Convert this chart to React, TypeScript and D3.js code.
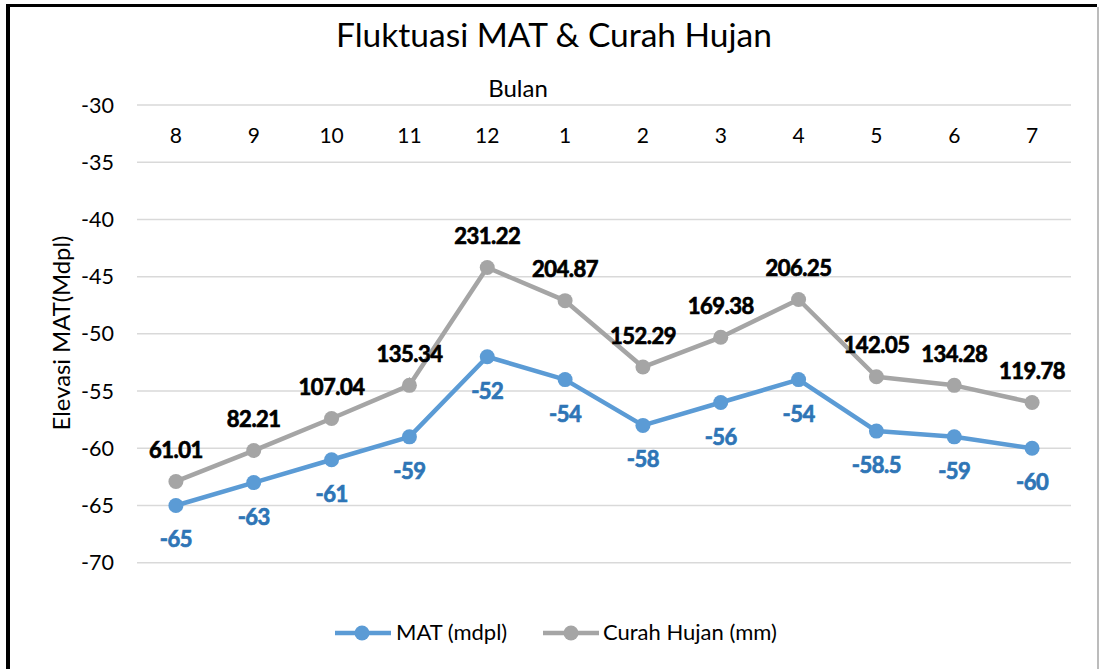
import React from "react";
import * as d3 from "d3";

const months = ["8", "9", "10", "11", "12", "1", "2", "3", "4", "5", "6", "7"];
const matValues = [-65, -63, -61, -59, -52, -54, -58, -56, -54, -58.5, -59, -60];
const rainLabels = ["61.01", "82.21", "107.04", "135.34", "231.22", "204.87", "152.29", "169.38", "206.25", "142.05", "134.28", "119.78"];
// Rainfall series as plotted on the elevation axis
const rainPlotted = [-62.9, -60.2, -57.4, -54.5, -44.2, -47.1, -52.9, -50.3, -47.0, -53.75, -54.5, -56.0];
const yTicks = [-30, -35, -40, -45, -50, -55, -60, -65, -70];

const W = 1099;
const H = 669;
const FONT = "Lato, 'Open Sans', sans-serif";
const BLUE = "#5B9BD5";
const BLUE_LABEL = "#2E75B6";
const GRAY = "#A5A5A5";

export default function App() {
  const x = d3.scaleBand<string>().domain(months).range([137, 1071]).padding(0);
  const y = d3.scaleLinear().domain([-70, -30]).range([562.7, 105]);
  const cx = (m: string) => (x(m) as number) + x.bandwidth() / 2;

  const line = d3
    .line<number>()
    .x((_, i) => cx(months[i]))
    .y((d) => y(d));

  return (
    <div style={{ position: "absolute", left: 0, top: 0 }}>
      <svg width={W} height={H} style={{ display: "block", background: "#fff" }}>
        <rect x={0} y={0} width={W} height={H} fill="#fff" />
        {/* frame */}
        <line x1={6} x2={1097} y1={5.5} y2={5.5} stroke="#000" strokeWidth={3} />
        <line x1={8} x2={8} y1={4} y2={H} stroke="#000" strokeWidth={4} />
        <line x1={1098} x2={1098} y1={7} y2={H} stroke="#A6A6A6" strokeWidth={1.5} />

        {/* title */}
        <text x={554} y={46.5} textAnchor="middle" fontFamily={FONT} fontSize={33.5} fill="#000">
          Fluktuasi MAT &amp; Curah Hujan
        </text>
        <text x={518} y={96.5} textAnchor="middle" fontFamily={FONT} fontSize={24} fill="#000">
          Bulan
        </text>

        {/* gridlines */}
        {yTicks.map((t) => (
          <line key={t} x1={137} x2={1071} y1={y(t)} y2={y(t)} stroke="#D9D9D9" strokeWidth={1.5} />
        ))}
        {/* y tick labels */}
        {yTicks.map((t) => (
          <text key={"l" + t} x={114} y={y(t) + 7.5} textAnchor="end" fontFamily={FONT} fontSize={21.5} fill="#000">
            {t}
          </text>
        ))}
        {/* month labels */}
        {months.map((m) => (
          <text key={"m" + m} x={cx(m)} y={143} textAnchor="middle" fontFamily={FONT} fontSize={21} fill="#000">
            {m}
          </text>
        ))}
        {/* y axis title */}
        <text
          transform={`translate(70,333) rotate(-90)`}
          textAnchor="middle"
          fontFamily={FONT}
          fontSize={23.8}
          fill="#000"
        >
          Elevasi MAT(Mdpl)
        </text>

        {/* rainfall series */}
        <path d={line(rainPlotted) || ""} fill="none" stroke={GRAY} strokeWidth={4.5} strokeLinejoin="round" />
        {rainPlotted.map((v, i) => (
          <circle key={"gc" + i} cx={cx(months[i])} cy={y(v)} r={7.5} fill={GRAY} />
        ))}
        {/* MAT series */}
        <path d={line(matValues) || ""} fill="none" stroke={BLUE} strokeWidth={4.5} strokeLinejoin="round" />
        {matValues.map((v, i) => (
          <circle key={"bc" + i} cx={cx(months[i])} cy={y(v)} r={7.5} fill={BLUE} />
        ))}

        {/* leader line for 135.34 */}
        <line x1={cx(months[3])} x2={cx(months[3]) + 1} y1={y(rainPlotted[3]) - 8} y2={y(rainPlotted[3]) - 4} stroke={GRAY} strokeWidth={1} />

        {/* rainfall labels */}
        {rainLabels.map((l, i) => (
          <text
            key={"gl" + i}
            x={cx(months[i])}
            y={y(rainPlotted[i]) - 23.5}
            textAnchor="middle"
            fontFamily={FONT}
            fontWeight="bold"
            fontSize={22}
            letterSpacing={-0.5}
            fill="#000"
            stroke="#000"
            strokeWidth={0.7}
          >
            {l}
          </text>
        ))}
        {/* MAT labels */}
        {matValues.map((v, i) => (
          <text
            key={"bl" + i}
            x={cx(months[i])}
            y={y(v) + 42}
            textAnchor="middle"
            fontFamily={FONT}
            fontWeight="bold"
            fontSize={22}
            letterSpacing={-0.5}
            fill={BLUE_LABEL}
            stroke={BLUE_LABEL}
            strokeWidth={0.7}
          >
            {v}
          </text>
        ))}

        {/* legend */}
        <line x1={335} x2={391} y1={633} y2={633} stroke={BLUE} strokeWidth={4.5} />
        <circle cx={362} cy={633} r={7.5} fill={BLUE} />
        <text x={396} y={640} fontFamily={FONT} fontSize={22} fill="#000">
          MAT (mdpl)
        </text>
        <line x1={543} x2={599} y1={633} y2={633} stroke={GRAY} strokeWidth={4.5} />
        <circle cx={571} cy={633} r={7.5} fill={GRAY} />
        <text x={603} y={640} fontFamily={FONT} fontSize={22} fill="#000">
          Curah Hujan (mm)
        </text>
      </svg>
    </div>
  );
}
